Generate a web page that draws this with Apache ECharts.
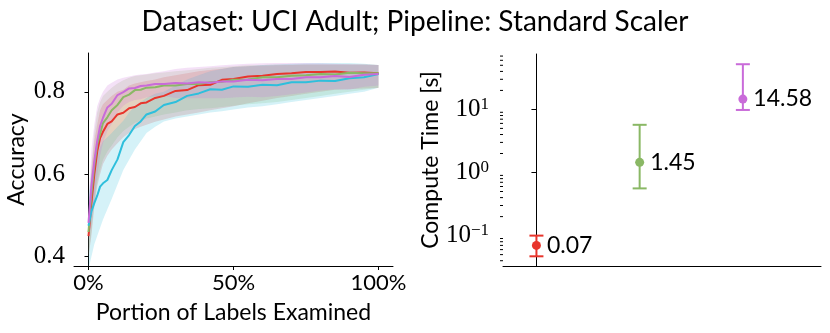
<!DOCTYPE html>
<html>
<head>
<meta charset="utf-8">
<script src="https://cdn.jsdelivr.net/npm/echarts@6/dist/echarts.min.js"></script>
<style>
  html, body { margin: 0; background: #fff; }
  #main { width: 830px; height: 333px; }
</style>
</head>
<body>
<div id="main"></div>
<script>
// portion of labels examined (x of the left panel)
const portion = [0, 0.01, 0.02, 0.03, 0.04, 0.05, 0.065, 0.08, 0.1, 0.12, 0.14, 0.16, 0.18, 0.2, 0.23, 0.26,
  0.3, 0.34, 0.38, 0.42, 0.46, 0.5, 0.55, 0.6, 0.65, 0.7, 0.75, 0.8, 0.85, 0.9, 0.95, 1.0];

// accuracy curves (mean) and bands (low / high)
const redMean = [0.45, 0.53, 0.60, 0.655, 0.688, 0.703, 0.722, 0.728, 0.745, 0.749, 0.76, 0.763, 0.772, 0.774, 0.785, 0.79,
  0.802, 0.804, 0.816, 0.817, 0.829, 0.831, 0.837, 0.839, 0.843, 0.845, 0.848, 0.848, 0.849, 0.846, 0.847, 0.845];
const redLo = [0.40, 0.45, 0.52, 0.57, 0.60, 0.625, 0.645, 0.66, 0.675, 0.69, 0.70, 0.71, 0.715, 0.72, 0.727, 0.733,
  0.74, 0.745, 0.75, 0.755, 0.76, 0.765, 0.772, 0.778, 0.785, 0.79, 0.795, 0.80, 0.805, 0.807, 0.808, 0.809];
const redHi = [0.50, 0.61, 0.68, 0.72, 0.755, 0.77, 0.78, 0.79, 0.80, 0.805, 0.815, 0.82, 0.823, 0.826, 0.83, 0.835,
  0.84, 0.845, 0.85, 0.853, 0.856, 0.86, 0.862, 0.863, 0.864, 0.865, 0.866, 0.866, 0.866, 0.866, 0.866, 0.865];

const greenMean = [0.46, 0.55, 0.62, 0.672, 0.698, 0.724, 0.738, 0.755, 0.768, 0.787, 0.793, 0.804, 0.805, 0.81, 0.811, 0.815,
  0.815, 0.819, 0.819, 0.823, 0.824, 0.829, 0.83, 0.835, 0.835, 0.839, 0.84, 0.843, 0.842, 0.846, 0.845, 0.845];
const greenLo = [0.40, 0.46, 0.53, 0.58, 0.61, 0.635, 0.655, 0.67, 0.69, 0.705, 0.715, 0.725, 0.73, 0.735, 0.74, 0.745,
  0.75, 0.755, 0.758, 0.76, 0.763, 0.766, 0.77, 0.772, 0.775, 0.78, 0.785, 0.79, 0.795, 0.80, 0.805, 0.81];
const greenHi = [0.50, 0.62, 0.70, 0.75, 0.775, 0.79, 0.80, 0.81, 0.82, 0.828, 0.834, 0.838, 0.84, 0.842, 0.845, 0.847,
  0.85, 0.852, 0.855, 0.858, 0.86, 0.862, 0.864, 0.865, 0.866, 0.866, 0.866, 0.866, 0.866, 0.866, 0.866, 0.865];

const cyanMean = [0.475, 0.51, 0.53, 0.548, 0.57, 0.578, 0.586, 0.61, 0.636, 0.678, 0.695, 0.717, 0.728, 0.745, 0.752, 0.768,
  0.775, 0.79, 0.796, 0.806, 0.805, 0.813, 0.812, 0.817, 0.816, 0.823, 0.823, 0.827, 0.826, 0.833, 0.835, 0.843];
const cyanLo = [0.37, 0.40, 0.43, 0.45, 0.47, 0.49, 0.515, 0.54, 0.575, 0.61, 0.635, 0.66, 0.68, 0.70, 0.715, 0.728,
  0.735, 0.74, 0.745, 0.75, 0.753, 0.757, 0.762, 0.765, 0.77, 0.775, 0.78, 0.785, 0.79, 0.795, 0.80, 0.81];
const cyanHi = [0.55, 0.60, 0.63, 0.65, 0.665, 0.68, 0.69, 0.70, 0.715, 0.73, 0.75, 0.765, 0.775, 0.785, 0.795, 0.80,
  0.815, 0.83, 0.84, 0.85, 0.855, 0.86, 0.862, 0.865, 0.866, 0.868, 0.869, 0.87, 0.87, 0.87, 0.868, 0.865];

const purpleMean = [0.482, 0.57, 0.632, 0.68, 0.717, 0.737, 0.762, 0.771, 0.792, 0.799, 0.808, 0.809, 0.814, 0.815, 0.819, 0.819,
  0.821, 0.82, 0.823, 0.822, 0.825, 0.825, 0.829, 0.828, 0.831, 0.831, 0.835, 0.835, 0.838, 0.836, 0.841, 0.843];
const purpleLo = [0.44, 0.48, 0.54, 0.595, 0.645, 0.676, 0.705, 0.722, 0.75, 0.766, 0.775, 0.78, 0.782, 0.787, 0.789, 0.79,
  0.785, 0.784, 0.784, 0.784, 0.784, 0.786, 0.788, 0.787, 0.79, 0.794, 0.798, 0.803, 0.806, 0.805, 0.812, 0.815];
const purpleHi = [0.52, 0.66, 0.72, 0.765, 0.785, 0.80, 0.815, 0.822, 0.83, 0.834, 0.837, 0.84, 0.842, 0.843, 0.847, 0.85,
  0.855, 0.858, 0.86, 0.862, 0.864, 0.866, 0.868, 0.869, 0.87, 0.87, 0.87, 0.869, 0.868, 0.867, 0.866, 0.865];

const accTicks = [0.4, 0.6, 0.8];
const portionTicks = [0, 0.5, 1];

// compute time (right panel)
const timeMean = [0.07, 1.45, 14.58];
const timeLo = [0.047, 0.56, 9.8];
const timeHi = [0.1, 5.7, 52];
const timeTicks = [0.1, 1, 10];
const timeMinor = [0.04, 0.05, 0.06, 0.07, 0.08, 0.09, 0.2, 0.3, 0.4, 0.5, 0.6, 0.7, 0.8, 0.9,
  2, 3, 4, 5, 6, 7, 8, 9, 20, 30, 40, 50, 60, 70];

const colors = { red: '#e8352c', green: '#8ab865', cyan: '#2ebfdc', purple: '#c96bd9' };
const timeColors = [colors.red, colors.green, colors.purple];

const sans = 'Lato';
const serif = 'Liberation Serif';

function pairs(ys) {
  return portion.map((x, i) => [x, ys[i]]);
}

// shaded band drawn as one polygon through the axes
function band(lo, hi, color) {
  return {
    type: 'custom', xAxisIndex: 0, yAxisIndex: 0, silent: true, z: 2,
    data: portion.map((x, i) => [x, lo[i], hi[i]]),
    encode: { x: 0, y: [1, 2] },
    renderItem: (params, api) => {
      if (params.dataIndex !== 0) return;
      const top = portion.map((x, i) => api.coord([x, hi[i]]));
      const bot = portion.map((x, i) => api.coord([x, lo[i]])).reverse();
      const cs = params.coordSys;
      return {
        type: 'polygon',
        shape: { points: top.concat(bot) },
        style: { fill: color, opacity: 0.2 },
        clipPath: { type: 'rect', shape: { x: cs.x, y: cs.y, width: cs.width, height: cs.height } }
      };
    }
  };
}

function line(ys, color) {
  return {
    type: 'line', xAxisIndex: 0, yAxisIndex: 0, symbol: 'none', z: 5,
    data: pairs(ys), lineStyle: { color: color, width: 2 }
  };
}

let chart = echarts.init(document.getElementById('main'));

let option = {
  animation: false,
  title: {
    text: 'Dataset: UCI Adult; Pipeline: Standard Scaler',
    left: 'center', top: 3,
    textStyle: { fontFamily: sans, fontSize: 28, fontWeight: 'normal', color: '#000' }
  },
  grid: [
    { left: 74, top: 53, width: 319, height: 213 },
    { left: 503, top: 54, width: 318, height: 212 }
  ],
  xAxis: [
    {
      type: 'value', gridIndex: 0, min: -0.05, max: 1.05,
      name: 'Portion of Labels Examined', nameLocation: 'middle', nameGap: 35,
      nameTextStyle: { fontFamily: sans, fontSize: 23, color: '#000' },
      splitLine: { show: false },
      axisLine: { lineStyle: { color: '#000', width: 1 } },
      axisTick: { customValues: portionTicks, length: 4, lineStyle: { color: '#000' } },
      axisLabel: {
        customValues: portionTicks, margin: 6,
        fontFamily: sans, fontSize: 22, color: '#000',
        formatter: v => Math.round(v * 100) + '%'
      }
    },
    {
      type: 'value', gridIndex: 1, min: -0.324, max: 2.757,
      splitLine: { show: false },
      axisLine: { lineStyle: { color: '#000', width: 1 } },
      axisTick: { show: false }, axisLabel: { show: false }
    }
  ],
  yAxis: [
    {
      type: 'value', gridIndex: 0, min: 0.3775, max: 0.894,
      name: 'Accuracy', nameLocation: 'middle', nameGap: 46,
      nameTextStyle: { fontFamily: sans, fontSize: 23, color: '#000' },
      splitLine: { show: false },
      axisLine: { show: true, lineStyle: { color: '#000', width: 1 } },
      axisTick: { show: true, customValues: accTicks, length: 4, lineStyle: { color: '#000' } },
      axisLabel: {
        customValues: accTicks, margin: 9,
        fontFamily: serif, fontSize: 25, color: '#000',
        formatter: v => v.toFixed(1)
      }
    },
    {
      type: 'log', logBase: 10, gridIndex: 1, min: 0.033, max: 75.5,
      name: 'Compute Time [s]', nameLocation: 'middle', nameGap: 60,
      nameTextStyle: { fontFamily: sans, fontSize: 23, color: '#000' },
      splitLine: { show: false },
      axisLine: { show: true, lineStyle: { color: '#000', width: 1 } },
      axisTick: { show: true, customValues: timeTicks, length: 5, lineStyle: { color: '#000' } },
      axisLabel: {
        customValues: timeTicks, margin: 14, color: '#000',
        formatter: v => '{b|10}{s|' + Math.round(Math.log10(v)).toString().replace('-', '\u2212') + '}',
        rich: {
          b: { fontFamily: serif, fontSize: 25, color: '#000' },
          s: { fontFamily: serif, fontSize: 17, color: '#000', verticalAlign: 'top', padding: [0, 0, 10, 0] }
        }
      }
    }
  ],
  series: [
    band(redLo, redHi, colors.red),
    band(greenLo, greenHi, colors.green),
    band(cyanLo, cyanHi, colors.cyan),
    band(purpleLo, purpleHi, colors.purple),
    line(redMean, colors.red),
    line(greenMean, colors.green),
    line(cyanMean, colors.cyan),
    line(purpleMean, colors.purple),
    {
      // minor ticks of the log axis
      type: 'custom', xAxisIndex: 1, yAxisIndex: 1, silent: true,
      data: timeMinor.map(v => [-0.324, v]),
      renderItem: (params, api) => {
        const p = api.coord([api.value(0), api.value(1)]);
        return {
          type: 'line',
          shape: { x1: p[0] - 3, y1: p[1], x2: p[0], y2: p[1] },
          style: { stroke: '#000', lineWidth: 1 }
        };
      }
    },
    {
      // error bars
      type: 'custom', xAxisIndex: 1, yAxisIndex: 1, z: 3,
      data: timeMean.map((m, i) => [i, timeLo[i], timeHi[i]]),
      encode: { x: 0, y: [1, 2] },
      renderItem: (params, api) => {
        const x = api.value(0);
        const top = api.coord([x, api.value(2)]);
        const bot = api.coord([x, api.value(1)]);
        const c = timeColors[params.dataIndex];
        const st = { stroke: c, lineWidth: 2 };
        const hw = 7;
        return {
          type: 'group',
          children: [
            { type: 'line', shape: { x1: top[0], y1: top[1], x2: bot[0], y2: bot[1] }, style: st },
            { type: 'line', shape: { x1: top[0] - hw, y1: top[1], x2: top[0] + hw, y2: top[1] }, style: st },
            { type: 'line', shape: { x1: bot[0] - hw, y1: bot[1], x2: bot[0] + hw, y2: bot[1] }, style: st }
          ]
        };
      }
    },
    {
      type: 'scatter', xAxisIndex: 1, yAxisIndex: 1, z: 4,
      symbol: 'circle', symbolSize: 9,
      data: timeMean.map((m, i) => ({ value: [i, m], itemStyle: { color: timeColors[i], opacity: 1 } })),
      label: {
        show: true, position: 'right', distance: 6,
        fontFamily: sans, fontSize: 23, color: '#000',
        formatter: p => p.value[1].toFixed(2)
      }
    }
  ]
};

chart.setOption(option);
</script>
</body>
</html>
